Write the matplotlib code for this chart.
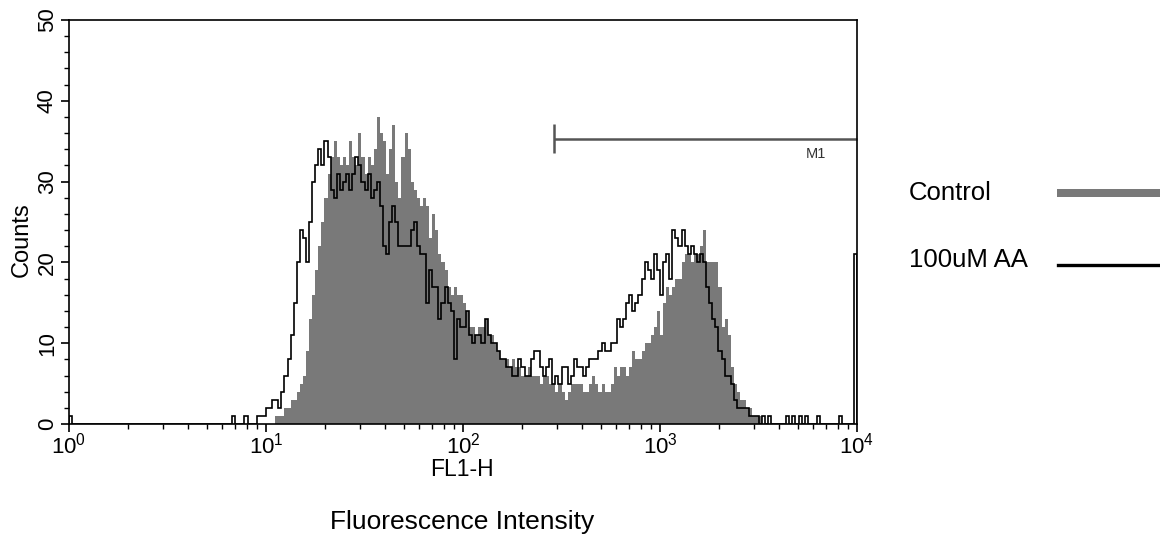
import numpy as np
import matplotlib
matplotlib.use("Agg")
import matplotlib.pyplot as plt
from matplotlib.ticker import LogLocator, MultipleLocator, NullFormatter

plt.rcParams["font.family"] = ["Liberation Sans", "DejaVu Sans"]
plt.rcParams["mathtext.fontset"] = "custom"
plt.rcParams["mathtext.rm"] = "Liberation Sans"
plt.rcParams["mathtext.it"] = "Liberation Sans"

# 256-channel log histogram spanning 10^0 .. 10^4 (FL1-H)
n_channels = 256
decades = 4

control_counts = [
    0, 0, 0, 0, 0, 0, 0, 0, 0, 0, 0, 0, 0, 0, 0, 0,
    0, 0, 0, 0, 0, 0, 0, 0, 0, 0, 0, 0, 0, 0, 0, 0,
    0, 0, 0, 0, 0, 0, 0, 0, 0, 0, 0, 0, 0, 0, 0, 0,
    0, 0, 0, 0, 0, 0, 0, 0, 0, 0, 0, 0, 0, 0, 0, 0,
    0, 0, 0, 1, 1, 1, 2, 2, 3, 3, 4, 5, 6, 9, 13, 16,
    19, 22, 25, 28, 31, 33, 35, 33, 32, 33, 32, 35, 33, 32, 36, 33,
    31, 33, 32, 34, 38, 36, 35, 31, 34, 37, 30, 28, 33, 36, 34, 30,
    29, 28, 27, 28, 27, 23, 26, 24, 21, 20, 19, 17, 16, 17, 16, 16,
    15, 14, 12, 12, 11, 12, 12, 13, 11, 11, 10, 9, 8, 8, 8, 7,
    8, 7, 7, 6, 6, 7, 6, 6, 6, 5, 6, 6, 5, 5, 4, 5,
    4, 3, 4, 5, 5, 5, 5, 4, 4, 5, 6, 5, 4, 5, 4, 4,
    5, 7, 6, 7, 7, 6, 7, 9, 8, 8, 9, 10, 10, 11, 12, 14,
    11, 15, 17, 16, 17, 18, 18, 20, 21, 21, 20, 21, 21, 22, 24, 20,
    20, 20, 20, 17, 12, 13, 11, 7, 5, 4, 3, 3, 2, 2, 1, 1,
    1, 0, 0, 0, 0, 0, 0, 0, 0, 0, 0, 0, 0, 0, 0, 0,
    0, 0, 0, 0, 0, 0, 0, 0, 0, 0, 0, 0, 0, 0, 0, 0,
]

aa_counts = [
    1, 0, 0, 0, 0, 0, 0, 0, 0, 0, 0, 0, 0, 0, 0, 0,
    0, 0, 0, 0, 0, 0, 0, 0, 0, 0, 0, 0, 0, 0, 0, 0,
    0, 0, 0, 0, 0, 0, 0, 0, 0, 0, 0, 0, 0, 0, 0, 0,
    0, 0, 0, 0, 0, 1, 0, 0, 0, 1, 0, 0, 0, 1, 1, 1,
    2, 2, 3, 3, 2, 4, 6, 8, 11, 15, 20, 24, 23, 20, 25, 30,
    32, 34, 32, 35, 33, 29, 28, 31, 29, 30, 31, 29, 31, 33, 32, 30,
    29, 31, 28, 29, 30, 27, 22, 21, 25, 27, 25, 22, 22, 22, 22, 24,
    25, 22, 21, 21, 15, 19, 17, 17, 13, 15, 17, 15, 14, 8, 13, 12,
    12, 14, 11, 10, 11, 11, 10, 13, 11, 10, 10, 9, 8, 8, 7, 7,
    6, 6, 8, 7, 6, 6, 8, 9, 9, 7, 6, 7, 8, 5, 6, 5,
    7, 7, 5, 6, 8, 7, 7, 6, 7, 8, 8, 8, 9, 10, 9, 9,
    10, 10, 13, 12, 13, 15, 16, 14, 15, 16, 18, 20, 19, 18, 21, 19,
    16, 20, 21, 18, 24, 23, 22, 24, 22, 21, 22, 21, 20, 21, 20, 17,
    15, 13, 12, 9, 8, 6, 6, 5, 3, 2, 2, 2, 2, 1, 1, 1,
    0, 1, 0, 1, 0, 0, 0, 0, 0, 1, 0, 1, 0, 1, 0, 1,
    0, 0, 0, 1, 0, 0, 0, 0, 0, 0, 1, 0, 0, 0, 0, 21,
]

# M1 gate region
m1_start = 290
m1_end = 1e4
m1_level = 35.3

y_ticks = [0, 10, 20, 30, 40, 50]

edges = np.logspace(0, decades, n_channels + 1)

fig = plt.figure(figsize=(11.6, 5.36), dpi=100)
ax = fig.add_axes([69 / 1160, (536 - 424) / 536, 788 / 1160, 404 / 536])

gray = "#797979"
ax.stairs(control_counts, edges, fill=True, color=gray, linewidth=0)
ax.stairs(aa_counts, edges, color="black", linewidth=1.2)

ax.set_xscale("log")
ax.set_xlim(1, 1e4)
ax.set_ylim(0, 50)

ax.set_yticks(y_ticks)
ax.yaxis.set_minor_locator(MultipleLocator(2))
ax.xaxis.set_major_locator(LogLocator(base=10, numticks=10))
ax.xaxis.set_minor_locator(LogLocator(base=10, subs=np.arange(2, 10), numticks=20))
ax.xaxis.set_minor_formatter(NullFormatter())

for s in ax.spines.values():
    s.set_linewidth(1.2)
ax.tick_params(axis="both", which="major", direction="out", length=6, width=1.2,
               labelsize=16, colors="black")
ax.tick_params(axis="both", which="minor", direction="out", length=3.5, width=1.0)
ax.tick_params(axis="y", labelrotation=90, pad=2)
ax.tick_params(axis="x", pad=0)
for lab in ax.get_yticklabels():
    lab.set_va("center")

fig.text(22 / 1160, 1 - 240 / 536, "Counts", fontsize=17, rotation=90,
         ha="center", va="center")

# M1 marker
ax.plot([m1_start, m1_end], [m1_level, m1_level], color="#555555", lw=1.8,
        solid_capstyle="butt", clip_on=False)
ax.plot([m1_start, m1_start], [m1_level - 1.8, m1_level + 1.8], color="#555555",
        lw=1.8, solid_capstyle="butt")
ax.text(10 ** ((816 - 69) / 197), m1_level - 1.9, "M1", fontsize=10.5,
        ha="center", va="center", color="#333333")

fig.text(462 / 1160, 1 - 470 / 536, "FL1-H", fontsize=16.5, ha="center", va="center")
fig.text(462 / 1160, 1 - 522 / 536, "Fluorescence Intensity", fontsize=19,
         ha="center", va="center")

# legend drawn as figure elements
fig.text(909 / 1160, 1 - 193 / 536, "Control", fontsize=18.5, ha="left", va="center")
fig.text(909 / 1160, 1 - 260 / 536, "100uM AA", fontsize=18.5, ha="left", va="center")
fig.patches.append(plt.Rectangle((1057 / 1160, 1 - 197 / 536), 103 / 1160, 8 / 536,
                                 transform=fig.transFigure, color=gray, lw=0))
fig.lines.append(plt.Line2D([1058 / 1160, 1160 / 1160], [1 - 265 / 536, 1 - 265 / 536],
                            transform=fig.transFigure, color="black", lw=2.4))

fig.savefig("out.png", dpi=100)
